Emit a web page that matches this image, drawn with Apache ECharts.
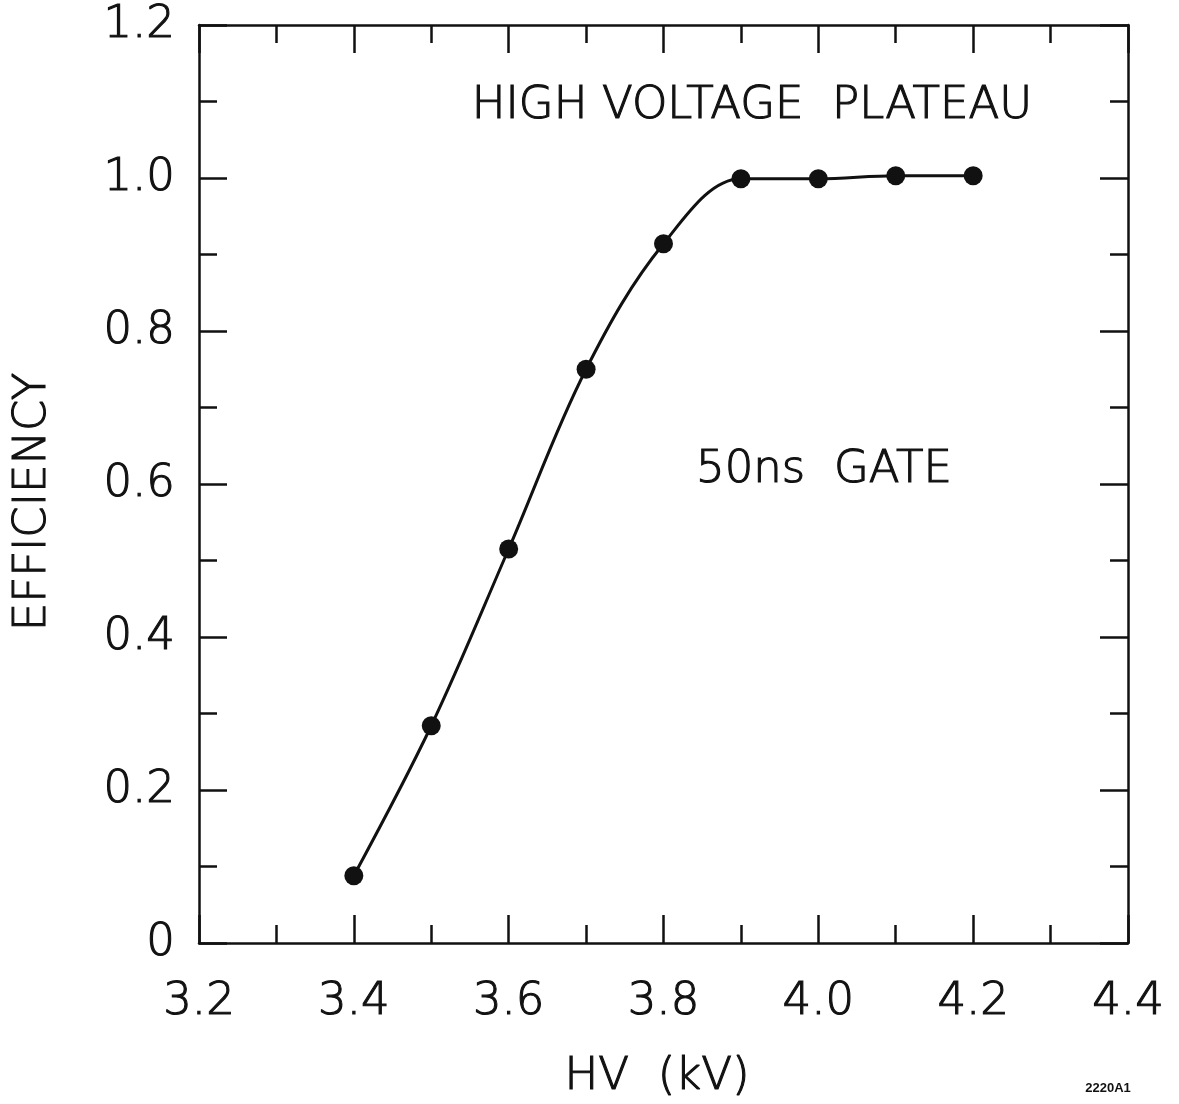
<!DOCTYPE html>
<html>
<head>
<meta charset="utf-8">
<script src="https://cdn.jsdelivr.net/npm/echarts@6/dist/echarts.min.js"></script>
<style>
html,body{margin:0;padding:0;background:#fff;}
#chart{width:1179px;height:1104px;}
</style>
</head>
<body>
<div id="chart"></div>
<script>
// Data
var hv = [3.4, 3.5, 3.6, 3.7, 3.8, 3.9, 4.0, 4.1, 4.2];
var efficiency = [0.088, 0.284, 0.515, 0.75, 0.914, 0.999, 0.999, 1.003, 1.003];
var xRange = [3.2, 4.4];
var yRange = [0, 1.2];
var labelStep = 0.2;
var texts = {
  xTitle: 'HV  (kV)',
  yTitle: 'EFFICIENCY',
  title: 'HIGH VOLTAGE  PLATEAU',
  note: '50ns  GATE',
  code: '2220A1'
};

var FONT = '"DejaVu Sans"';
var FW = 200;
var ink = '#111';
var thick = 1.1;

var chart = echarts.init(document.getElementById('chart'), null, {renderer: 'canvas'});

function axisCommon() {
  return {
    axisLine: {show: true, onZero: false, lineStyle: {color: ink, width: 2.5}},
    axisTick: {show: true, inside: true, length: 28, lineStyle: {color: ink, width: 2.5}},
    minorTick: {show: true, splitNumber: 2, length: 18, lineStyle: {color: ink, width: 2.5}},
    splitLine: {show: false},
    minorSplitLine: {show: false}
  };
}

var grid = {left: 199, top: 25, width: 929, height: 918, containLabel: false};

function labelStyle(margin, fmt) {
  return {show: true, margin: margin, color: ink, fontFamily: FONT, fontWeight: FW, fontSize: 45,
    textBorderColor: ink, textBorderWidth: thick, formatter: fmt};
}

function txt(x, y, s, size, rot) {
  return {type: 'text', x: x, y: y, rotation: rot || 0,
    style: {text: s, font: FW + ' ' + size + 'px ' + FONT, fill: ink, stroke: ink, lineWidth: thick,
      align: 'center', verticalAlign: 'middle'}};
}

var option = {
  backgroundColor: '#fff',
  animation: false,
  grid: grid,
  xAxis: [
    Object.assign({
      type: 'value', position: 'bottom', min: xRange[0], max: xRange[1], interval: labelStep,
      axisLabel: labelStyle(37, function (v) { return v.toFixed(1); })
    }, axisCommon()),
    Object.assign({
      type: 'value', position: 'top', min: xRange[0], max: xRange[1], interval: labelStep,
      axisLabel: {show: false}
    }, axisCommon())
  ],
  yAxis: [
    Object.assign({
      type: 'value', position: 'left', min: yRange[0], max: yRange[1], interval: labelStep,
      axisLabel: labelStyle(24, function (v) { return v === 0 ? '0' : v.toFixed(1); })
    }, axisCommon()),
    Object.assign({
      type: 'value', position: 'right', min: yRange[0], max: yRange[1], interval: labelStep,
      axisLabel: {show: false}
    }, axisCommon())
  ],
  series: [{
    type: 'line',
    xAxisIndex: 0, yAxisIndex: 0,
    data: hv.map(function (x, i) { return [x, efficiency[i]]; }),
    smooth: 0.35,
    symbol: 'circle',
    symbolSize: 19,
    itemStyle: {color: ink},
    lineStyle: {color: ink, width: 3}
  }],
  graphic: [
    txt(33, 502, texts.yTitle, 45, Math.PI / 2),
    txt(657, 1077, texts.xTitle, 45),
    txt(752, 106, texts.title, 45),
    txt(824, 470, texts.note, 45),
    {type: 'text', x: 1108, y: 1088,
      style: {text: texts.code, font: 'bold 13px "Liberation Sans"', fill: ink, align: 'center', verticalAlign: 'middle'}}
  ]
};
chart.setOption(option);
</script>
</body>
</html>
